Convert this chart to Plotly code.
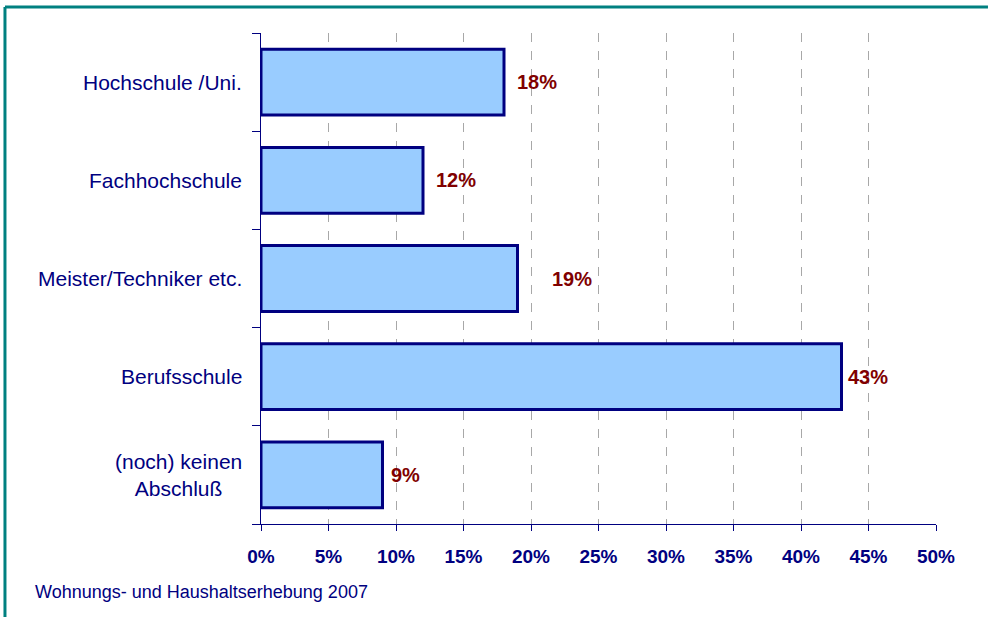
import plotly.graph_objects as go

categories = ["Hochschule /Uni.", "Fachhochschule", "Meister/Techniker etc.", "Berufsschule", "(noch) keinen<br>Abschluß"]
values = [18, 12, 19, 43, 9]
x_ticks = [0, 5, 10, 15, 20, 25, 30, 35, 40, 45, 50]
x_tick_labels = [f"{t}%" for t in x_ticks]
label_shift = [11, 11, 32, 4, 6]
footer = "Wohnungs- und Haushaltserhebung 2007"

NAVY = "#000080"
TEAL = "#008080"
FONT = "Arial, Liberation Sans, sans-serif"

ypos = list(range(len(categories)))
bounds = [i - 0.5 for i in range(len(categories) + 1)]

fig = go.Figure()
fig.add_trace(go.Bar(
    x=values, y=ypos, orientation="h", width=0.67,
    marker=dict(color="#99CCFF", line=dict(color=NAVY, width=3)),
    hoverinfo="skip", showlegend=False,
))

annotations = []
for i, (c, v, s) in enumerate(zip(categories, values, label_shift)):
    annotations.append(dict(x=v, y=i, xref="x", yref="y", text=f"{v}%", showarrow=False,
                            xanchor="left", yanchor="middle", xshift=s,
                            font=dict(family=FONT, size=20, color="#800000", weight="bold")))
    annotations.append(dict(x=0, y=i, xref="paper", yref="y", text=c, showarrow=False,
                            xanchor="right", yanchor="middle", xshift=-17, align="center",
                            font=dict(family=FONT, size=21, color=NAVY)))
annotations.append(dict(x=-0.3378, y=-0.1385, xref="paper", yref="paper", text=footer,
                        showarrow=False, xanchor="left", yanchor="middle",
                        font=dict(family=FONT, size=18, color=NAVY)))

fig.update_layout(
    width=988, height=617,
    margin=dict(l=261, r=52, t=33, b=93),
    paper_bgcolor="white", plot_bgcolor="white",
    xaxis=dict(range=[0, 50], tickvals=x_ticks, ticktext=x_tick_labels,
               showline=True, linecolor=NAVY, linewidth=1,
               ticks="outside", ticklen=6, tickcolor=NAVY, tickwidth=1,
               ticklabelstandoff=9,
               showgrid=True, gridcolor="#A8A8A8", griddash="dash", gridwidth=1,
               zeroline=False,
               tickfont=dict(family=FONT, size=19, color=NAVY, weight="bold")),
    xaxis2=dict(range=[0, 50], tickvals=x_ticks, overlaying="x", anchor="y",
                side="bottom", ticks="inside", ticklen=5, tickcolor=NAVY,
                showticklabels=False, showgrid=False, showline=False, zeroline=False),
    yaxis=dict(range=[len(categories) - 0.5, -0.5], tickvals=bounds,
               showticklabels=False, showline=True, linecolor=NAVY, linewidth=1,
               ticks="outside", ticklen=8, tickcolor=NAVY,
               showgrid=False, zeroline=False),
    yaxis2=dict(range=[len(categories) - 0.5, -0.5], tickvals=bounds, overlaying="y",
                anchor="x", side="left", ticks="inside", ticklen=6, tickcolor=NAVY,
                showticklabels=False, showgrid=False, showline=False, zeroline=False),
    annotations=annotations,
    shapes=[
        dict(type="line", xref="paper", yref="paper", x0=-0.3793, x1=1.077,
             y0=1.053, y1=1.053, line=dict(color=TEAL, width=3), layer="above"),
        dict(type="line", xref="paper", yref="paper", x0=-0.3793, x1=-0.3793,
             y0=-0.3, y1=1.053, line=dict(color=TEAL, width=3), layer="above"),
    ],
    bargap=0.33,
)

fig.write_html("out.html", config={"displayModeBar": False},
               post_script="document.body.style.margin='0';document.body.style.overflow='hidden';")
